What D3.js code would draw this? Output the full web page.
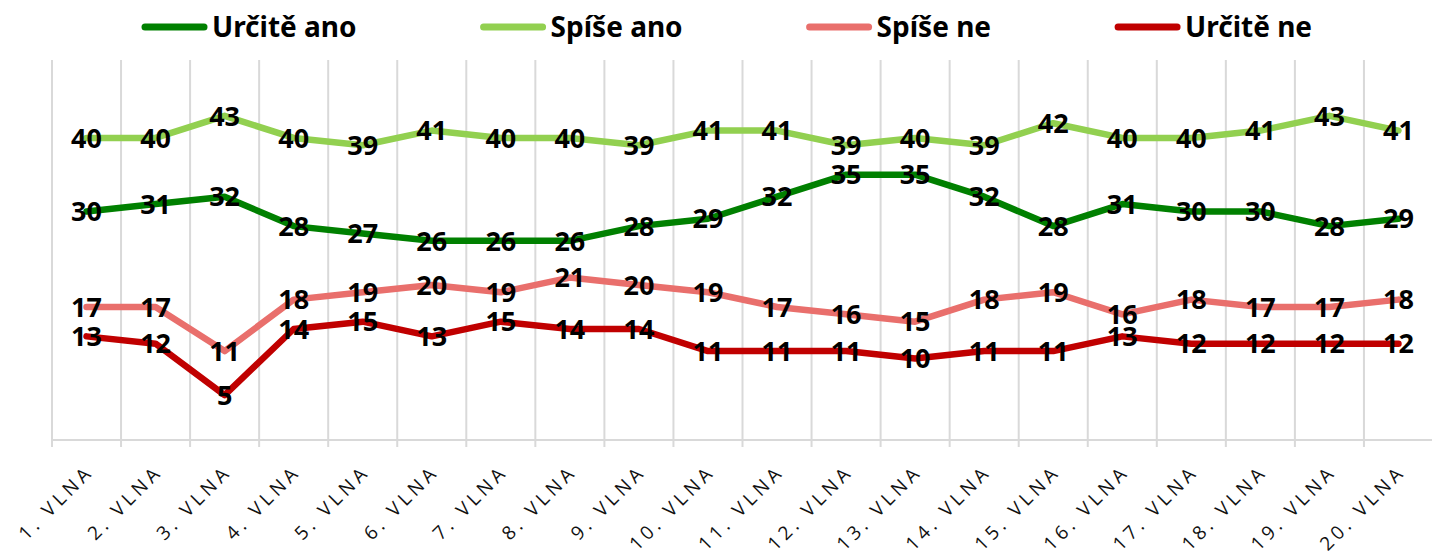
<!DOCTYPE html>
<html>
<head>
<meta charset="utf-8">
<script src="https://cdn.jsdelivr.net/npm/d3@7"></script>
<style>
  html, body { margin: 0; padding: 0; background: #ffffff; }
  svg { display: block; }
</style>
</head>
<body>
<svg id="chart" width="1432" height="558"></svg>
<script>
const categories = ["1. VLNA","2. VLNA","3. VLNA","4. VLNA","5. VLNA","6. VLNA","7. VLNA","8. VLNA","9. VLNA","10. VLNA","11. VLNA","12. VLNA","13. VLNA","14. VLNA","15. VLNA","16. VLNA","17. VLNA","18. VLNA","19. VLNA","20. VLNA"];
const seriesNames = ["Určitě ano", "Spíše ano", "Spíše ne", "Určitě ne"];
const urciteAno = [30,31,32,28,27,26,26,26,28,29,32,35,35,32,28,31,30,30,28,29];
const spiseAno  = [40,40,43,40,39,41,40,40,39,41,41,39,40,39,42,40,40,41,43,41];
const spiseNe   = [17,17,11,18,19,20,19,21,20,19,17,16,15,18,19,16,18,17,17,18];
const urciteNe  = [13,12,5,14,15,13,15,14,14,11,11,11,10,11,11,13,12,12,12,12];
const seriesValues = [urciteAno, spiseAno, spiseNe, urciteNe];
const colors = ["#008000", "#92d050", "#e96f6c", "#c00000"];

const svg = d3.select("#chart");
const plot = { left: 52, right: 1433, top: 60, bottom: 440 };

const x = d3.scaleBand().domain(categories).range([plot.left, plot.right]).paddingInner(0).paddingOuter(0);
const y = d3.scaleLinear().domain([-1.1, 50.6]).range([plot.bottom, plot.top]);
const cx = d => x(d) + x.bandwidth() / 2;

// vertical gridlines at category boundaries
const bounds = categories.map(c => x(c)).concat([plot.right]);
svg.append("g").selectAll("line").data(bounds).join("line")
  .attr("x1", d => d).attr("x2", d => d)
  .attr("y1", plot.top).attr("y2", plot.bottom + 7)
  .attr("stroke", "#d9d9d9").attr("stroke-width", 2);

// x axis line
svg.append("line")
  .attr("x1", plot.left).attr("x2", plot.right)
  .attr("y1", plot.bottom).attr("y2", plot.bottom)
  .attr("stroke", "#d9d9d9").attr("stroke-width", 2);

// x labels
svg.append("g").selectAll("text").data(categories).join("text")
  .attr("transform", d => `translate(${cx(d) + 8},${plot.bottom + 33}) rotate(-45)`)
  .attr("text-anchor", "end")
  .attr("font-family", "'Open Sans', 'Noto Sans', sans-serif")
  .attr("font-size", 19)
  .attr("letter-spacing", "4px")
  .attr("fill", "#111")
  .text(d => d);

// lines
const line = d3.line().x((v, i) => cx(categories[i])).y(v => y(v));
svg.append("g").selectAll("path").data(seriesValues).join("path")
  .attr("d", d => line(d))
  .attr("fill", "none")
  .attr("stroke", (d, i) => colors[i])
  .attr("stroke-width", 6.5)
  .attr("stroke-linejoin", "round")
  .attr("stroke-linecap", "round");

// data labels
const lbl = svg.append("g");
seriesValues.forEach((vals, si) => {
  lbl.selectAll(null).data(vals).join("text")
    .attr("x", (v, i) => cx(categories[i]))
    .attr("y", v => y(v))
    .attr("dy", "0.36em")
    .attr("text-anchor", "middle")
    .attr("font-family", "'Noto Sans', sans-serif")
    .attr("font-weight", 700)
    .attr("font-size", 27)
    .attr("fill", "#000")
    .text(v => v);
});

// legend
const legend = svg.append("g");
let lx = 142;
seriesNames.forEach((name, i) => {
  legend.append("line")
    .attr("x1", lx + 3).attr("x2", lx + 62)
    .attr("y1", 27).attr("y2", 27)
    .attr("stroke", colors[i]).attr("stroke-width", 7).attr("stroke-linecap", "round");
  const t = legend.append("text")
    .attr("x", lx + 70).attr("y", 37)
    .attr("font-family", "'Noto Sans', sans-serif")
    .attr("font-weight", 700)
    .attr("font-size", 28)
    .attr("fill", "#000")
    .text(name);
  const w = t.node().getComputedTextLength();
  lx = lx + 70 + w + 124;
});
</script>
</body>
</html>
